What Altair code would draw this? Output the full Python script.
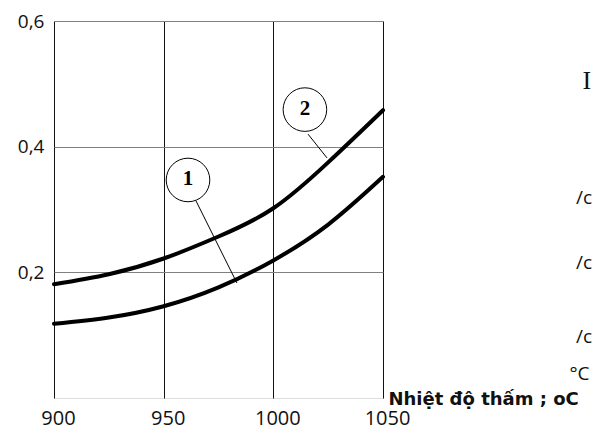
import altair as alt
import pandas as pd

# Data
temps = [900, 925, 950, 975, 1000, 1025, 1050]
curve1 = [0.118, 0.128, 0.146, 0.176, 0.219, 0.276, 0.352]
curve2 = [0.181, 0.197, 0.222, 0.257, 0.302, 0.375, 0.458]
x_ticks = [900, 950, 1000, 1050]
y_ticks = [0.2, 0.4, 0.6]

# callout circles (label, x, y) and leader lines (x, y, x2, y2)
callout_labels = ["1", "2"]
callout_x = [961.1, 1014.4]
callout_y = [0.347, 0.459]
leader_x = [964.7, 1015.8]
leader_y = [0.314, 0.420]
leader_x2 = [983.4, 1024.5]
leader_y2 = [0.183, 0.382]

# side texts (fragments at the picture edge in the reference)
side_texts = ["I", "/c", "/c", "/c"]
side_x = [1141.0, 1138.0, 1138.0, 1138.0]
side_y = [0.4925, 0.309, 0.206, 0.0877]
side_font = ["Liberation Serif", "Open Sans", "Open Sans", "Open Sans"]
side_size = [26, 19, 19, 19]

rows = []
for t, a, b in zip(temps, curve1, curve2):
    rows.append({"t": t, "v": a, "s": "1"})
    rows.append({"t": t, "v": b, "s": "2"})
df = pd.DataFrame(rows)

xs = alt.Scale(domain=[900, 1050], nice=False, zero=False)
ys = alt.Scale(domain=[0, 0.6], nice=False)

xaxis = alt.Axis(values=x_ticks, ticks=False, domain=False, grid=True, gridColor="#111",
                 gridWidth=1, labelFont="Open Sans", labelFontSize=20, labelColor="#111",
                 labelPadding=26, labelBaseline="alphabetic", labelOffset=4, title=None,
                 labelFlush=False, format="d")
yaxis = alt.Axis(values=y_ticks, ticks=False, domain=False, grid=True, gridColor="#808080",
                 gridWidth=1, labelFont="Open Sans", labelFontSize=19, labelColor="#111",
                 labelPadding=10, title=None, labelFlush=False,
                 labelExpr="replace(format(datum.value, '.1f'), '.', ',')")

lines = alt.Chart(df).mark_line(color="black", strokeWidth=4, interpolate="natural",
                                strokeCap="round").encode(
    x=alt.X("t:Q", scale=xs, axis=xaxis),
    y=alt.Y("v:Q", scale=ys, axis=yaxis),
    detail="s:N",
)

lead_df = pd.DataFrame({"x": leader_x, "y": leader_y, "x2": leader_x2, "y2": leader_y2})
leaders = alt.Chart(lead_df).mark_rule(color="black", strokeWidth=1).encode(
    x=alt.X("x:Q", scale=xs), y=alt.Y("y:Q", scale=ys), x2="x2:Q", y2="y2:Q")

call_df = pd.DataFrame({"lab": callout_labels, "x": callout_x, "y": callout_y})
circles = alt.Chart(call_df).mark_point(shape="circle", filled=True, fill="white",
                                        stroke="black", strokeWidth=1, size=1900,
                                        opacity=1).encode(
    x=alt.X("x:Q", scale=xs), y=alt.Y("y:Q", scale=ys))
nums = alt.Chart(call_df).mark_text(font="Liberation Serif", fontWeight="bold", fontSize=21,
                                    color="black", dy=-1).encode(
    x=alt.X("x:Q", scale=xs), y=alt.Y("y:Q", scale=ys), text="lab:N")

side_df = pd.DataFrame({"txt": side_texts, "x": side_x, "y": side_y})
side_layers = []
for i in range(len(side_texts)):
    side_layers.append(
        alt.Chart(side_df.iloc[[i]]).mark_text(align="left", baseline="alphabetic",
                                                font=side_font[i], fontSize=side_size[i],
                                                color="#111").encode(
            x=alt.X("x:Q", scale=xs), y=alt.Y("y:Q", scale=ys), text="txt:N"))

deg_df = pd.DataFrame({"txt": ["°C"], "x": [1135.0], "y": [0.029]})
deg = alt.Chart(deg_df).mark_text(align="left", baseline="alphabetic", font="Open Sans",
                                  fontSize=19, color="#111").encode(
    x=alt.X("x:Q", scale=xs), y=alt.Y("y:Q", scale=ys), text="txt:N")

title_df = pd.DataFrame({"txt": ["Nhiệt độ thấm ; oC"], "x": [1052.5], "y": [-0.011]})
xtitle = alt.Chart(title_df).mark_text(align="left", baseline="alphabetic", font="DejaVu Sans",
                                       fontWeight="bold", fontSize=18, color="#111").encode(
    x=alt.X("x:Q", scale=xs), y=alt.Y("y:Q", scale=ys), text="txt:N")

chart = alt.layer(lines, leaders, circles, nums, *side_layers, deg, xtitle).properties(
    width=329, height=377,
    autosize=alt.AutoSizeParams(type="none"),
    padding={"left": 46, "top": 13, "right": 209, "bottom": 32},
).configure_view(stroke="#222", strokeWidth=1).configure(background="white")

chart.save("out.html", embed_options={"renderer": "svg", "actions": False})
